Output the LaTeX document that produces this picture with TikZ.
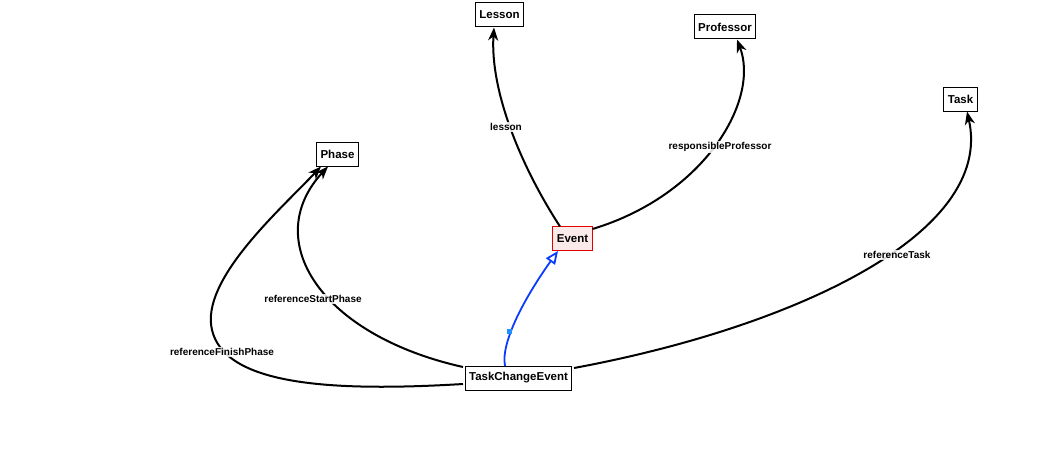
\documentclass[tikz,border=0pt]{standalone}
\usepackage{fontspec}
\setmainfont{Liberation Sans}
\usetikzlibrary{arrows.meta}
\definecolor{evfill}{HTML}{FBEAEA}
\definecolor{genblue}{HTML}{0A3CFF}
\definecolor{markblue}{HTML}{1E90FF}
\tikzset{
  cls/.style={draw=black, line width=1pt, fill=white, font=\fontsize{11.5}{13}\selectfont\bfseries, inner xsep=4pt, minimum height=24pt, inner ysep=0pt},
  evcls/.style={cls, draw=red!90!black, line width=1.2pt, fill=evfill},
  assoc/.style={draw=black, line width=2pt, -{Stealth[length=13pt,width=10pt,inset=4pt]}},
  gen/.style={draw=genblue, line width=1.8pt, -{Triangle[open,length=13pt,width=11pt,fill=white]}},
  lbl/.style={font=\fontsize{10}{12}\selectfont\bfseries, fill=white, fill opacity=0.85, text opacity=1, inner sep=1pt}
}
\begin{document}
\begin{tikzpicture}[x=1pt,y=-1pt]
\useasboundingbox (0,0) rectangle (1041,452);
\fill[white] (0,0) rectangle (1041,452);
% nodes
\node[cls] (lesson) at (499.5,15) {Lesson};
\node[cls] (prof) at (725,27) {Professor};
\node[cls] (task) at (960.5,99) {Task};
\node[cls] (phase) at (337.5,154) {Phase};
\node[evcls] (event) at (572.5,238.5) {Event};
\node[cls] (tce) at (518.5,378) {TaskChangeEvent};
% anchors on boxes
\coordinate (evTop) at (560,226.5);
\coordinate (evRight) at (592.5,229);
\coordinate (evBot) at (558,251);
\coordinate (tceRight) at (574,368);
\coordinate (tceLeftA) at (463,367);
\coordinate (tceLeftB) at (463,384);
\coordinate (tceTop) at (505,366);
% associations
\draw[assoc] (evTop) .. controls (520,165) and (490,90) .. (lesson.south -| 494,0);
\draw[assoc] (evRight) .. controls (705,195) and (760,100) .. (prof.south -| 737,0);
\draw[assoc] (tceRight) .. controls (790,328) and (995,235) .. (task.south -| 967,0);
\draw[assoc] (tceLeftA) .. controls (320,335) and (260,240) .. (phase.south -| 328,0);
\draw[assoc] (tceLeftB) .. controls (330,392) and (225,385) .. (212,330) .. controls (200,280) and (280,210) .. (phase.south -| 321,0);
% generalization
\draw[gen] (tceTop) .. controls (500,340) and (530,290) .. (evBot);
\node[fill=markblue, minimum size=5pt, inner sep=0pt] (mk) at (509.5,331) {};
% labels
\node[lbl] (l1) at (506,127) {lesson};
\node[lbl] (l2) at (720,147) {responsibleProfessor};
\node[lbl] (l3) at (897,255) {referenceTask};
\node[lbl] (l4) at (313,299) {referenceStartPhase};
\node[lbl] (l5) at (222,352) {referenceFinishPhase};
\end{tikzpicture}
\end{document}
